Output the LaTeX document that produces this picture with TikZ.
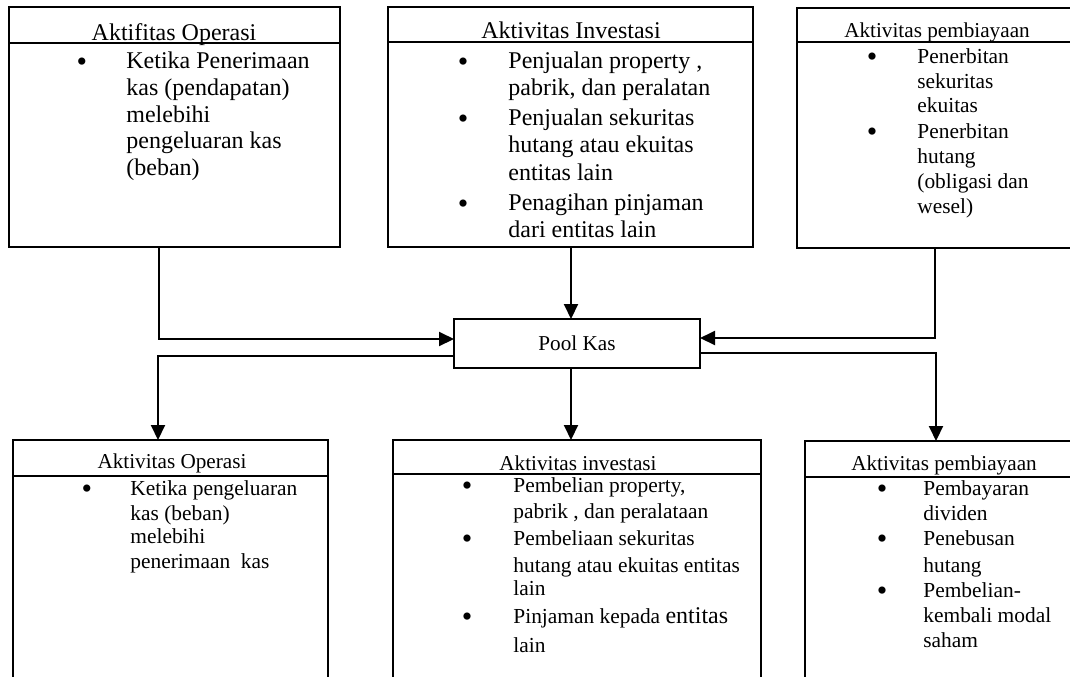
\documentclass[tikz,border=0pt]{standalone}
\usepackage{fontspec}
\setmainfont{Liberation Serif}
\usetikzlibrary{arrows.meta}
\tikzset{
  box/.style={draw, line width=1pt, rectangle, inner sep=0pt, outer sep=0pt},
  sep/.style={line width=1pt},
  arr/.style={line width=1pt, -{Triangle[length=7.5pt,width=7pt]}},
  big/.style={font=\fontsize{12pt}{14pt}\selectfont, inner sep=0pt, anchor=base west},
  sml/.style={font=\fontsize{10.7pt}{12pt}\selectfont, inner sep=0pt, anchor=base west},
  bigt/.style={font=\fontsize{12pt}{14pt}\selectfont, inner sep=0pt, anchor=base},
  smlt/.style={font=\fontsize{10.6pt}{12pt}\selectfont, inner sep=0pt, anchor=base},
  bul/.style={font=\fontsize{15pt}{16pt}\selectfont, inner sep=0pt, anchor=base, yshift=-1.8pt},
}
\begin{document}
\begin{tikzpicture}[x=0.5pt,y=-0.5pt]
\useasboundingbox (0,0) rectangle (1070,676);
\clip (0,0) rectangle (1070,676);

% ---------- boxes ----------
\node[box, minimum width=165.5pt, minimum height=120pt] (opA)  at (174.5,127) {};
\node[box, minimum width=182.5pt, minimum height=120pt] (invA) at (570.5,127) {};
\node[box, minimum width=140pt,   minimum height=120pt] (finA) at (937,128) {};
\node[box, minimum width=123pt,   minimum height=24.5pt] (pool) at (577,343.5) {};
\node[box, minimum width=157.5pt, minimum height=130pt] (opB)  at (170.5,570) {};
\node[box, minimum width=184pt,   minimum height=130pt] (invB) at (577,570) {};
\node[box, minimum width=140pt,   minimum height=130pt] (finB) at (945,571) {};

% ---------- title separators ----------
\draw[sep] (opA.west |- 0,43) -- (opA.east |- 0,43);
\draw[sep] (invA.west |- 0,42) -- (invA.east |- 0,42);
\draw[sep] (finA.west |- 0,42) -- (finA.east |- 0,42);
\draw[sep] (opB.west |- 0,476) -- (opB.east |- 0,476);
\draw[sep] (invB.west |- 0,474) -- (invB.east |- 0,474);
\draw[sep] (finB.west |- 0,477) -- (finB.east |- 0,477);

% ---------- titles ----------
\node[bigt] (opAt)  at (174,40) {Aktifitas Operasi};
\node[bigt] (invAt) at (571,38) {Aktivitas Investasi};
\node[smlt] (finAt) at (937,37) {Aktivitas pembiayaan};
\node[smlt] (poolt) at (577,350) {Pool Kas};
\node[smlt] (opBt)  at (172,468) {Aktivitas Operasi};
\node[smlt] (invBt) at (578,470) {Aktivitas investasi};
\node[smlt] (finBt) at (944,470) {Aktivitas pembiayaan};

% ---------- top-left ----------
\node[bul] (opAb1) at (82,68) {\textbullet};
\foreach \yy/\tx [count=\i] in {68/{Ketika Penerimaan},95/{kas (pendapatan)},122/{melebihi},148/{pengeluaran kas},175/{(beban)}}
  \node[big] (opAl\i) at (126,\yy) {\tx};

% ---------- top-middle ----------
\node[bul] (invAb1) at (463,68) {\textbullet};
\node[bul] (invAb2) at (463,125) {\textbullet};
\node[bul] (invAb3) at (463,210) {\textbullet};
\foreach \yy/\tx [count=\i] in {68/{Penjualan property ,},95/{pabrik, dan peralatan},125/{Penjualan sekuritas},152/{hutang atau ekuitas},180/{entitas lain},210/{Penagihan pinjaman},237/{dari entitas lain}}
  \node[big] (invAl\i) at (508,\yy) {\tx};

% ---------- top-right ----------
\node[bul] (finAb1) at (872,63) {\textbullet};
\node[bul] (finAb2) at (872,138) {\textbullet};
\foreach \yy/\tx [count=\i] in {63/{Penerbitan},88/{sekuritas},112/{ekuitas},138/{Penerbitan},163/{hutang},188/{(obligasi dan},213/{wesel)}}
  \node[sml] (finAl\i) at (917,\yy) {\tx};

% ---------- bottom-left ----------
\node[bul] (opBb1) at (87,495) {\textbullet};
\foreach \yy/\tx [count=\i] in {495/{Ketika pengeluaran},520/{kas (beban)},543/{melebihi},568/{penerimaan\ \ kas}}
  \node[sml] (opBl\i) at (130,\yy) {\tx};

% ---------- bottom-middle ----------
\node[bul] (invBb1) at (467,492) {\textbullet};
\node[bul] (invBb2) at (467,545) {\textbullet};
\node[bul] (invBb3) at (467,623) {\textbullet};
\foreach \yy/\tx [count=\i] in {492/{Pembelian property,},518/{pabrik , dan peralataan},545/{Pembeliaan sekuritas},572/{hutang atau ekuitas entitas},595/{lain},623/{Pinjaman kepada {\fontsize{12pt}{14pt}\selectfont entitas}},652/{lain}}
  \node[sml] (invBl\i) at (513,\yy) {\tx};

% ---------- bottom-right ----------
\node[bul] (finBb1) at (882,495) {\textbullet};
\node[bul] (finBb2) at (882,545) {\textbullet};
\node[bul] (finBb3) at (882,597) {\textbullet};
\foreach \yy/\tx [count=\i] in {495/{Pembayaran},520/{dividen},545/{Penebusan},572/{hutang},597/{Pembelian-},622/{kembali modal},647/{saham}}
  \node[sml] (finBl\i) at (923,\yy) {\tx};

% ---------- connectors ----------
\draw[arr] (opA.south -| 159,0) |- (pool.west |- 0,339);
\draw[arr] (invA.south -| 571,0) -- (pool.north -| 571,0);
\draw[arr] (finA.south -| 935,0) |- (pool.east |- 0,338);
\draw[arr] (pool.west |- 0,356) -| (opB.north -| 158,0);
\draw[arr] (pool.south -| 571,0) -- (invB.north -| 571,0);
\draw[arr] (pool.east |- 0,353) -| (finB.north -| 936,0);
\end{tikzpicture}
\end{document}
